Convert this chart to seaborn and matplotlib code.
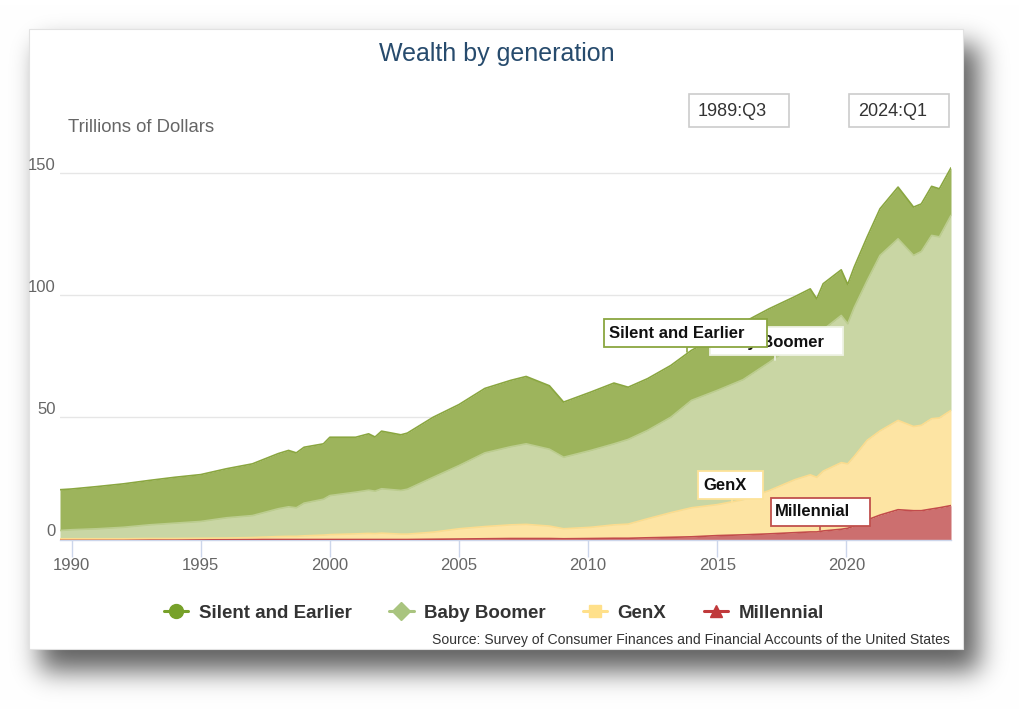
import numpy as np
import pandas as pd
import matplotlib
matplotlib.use('Agg')
import matplotlib.pyplot as plt
import matplotlib.transforms as mtransforms
from matplotlib.patches import Rectangle
from matplotlib.lines import Line2D
import seaborn as sns

sns.set_theme(style='white')
plt.rcParams['font.family'] = ['Liberation Sans', 'DejaVu Sans']

# quarterly-ish sample points (trillions of dollars)
dates = [1989.55, 1990.0, 1991.0, 1992.0, 1993.0, 1994.0, 1995.0, 1996.0, 1997.0, 1998.0,
         1998.4, 1998.7, 1999.0, 1999.75, 2000.0, 2001.0, 2001.5, 2001.75, 2002.0, 2002.75,
         2003.0, 2004.0, 2005.0, 2006.0, 2007.0, 2007.6, 2008.5, 2009.05, 2010.1, 2011.0,
         2011.55, 2012.3, 2013.2, 2014.0, 2015.0, 2016.0, 2017.0, 2018.0, 2018.6, 2018.85,
         2019.1, 2019.8, 2020.05, 2020.3, 2020.8, 2021.3, 2022.0, 2022.6, 2022.9, 2023.3,
         2023.6, 2024.05]
silent = [16.7, 16.7, 17.3, 17.8, 18.2, 18.8, 19.2, 20.1, 21.2, 22.6,
          23.1, 22.5, 22.9, 22.7, 23.9, 22.5, 23.1, 22.2, 23.6, 22.8,
          23.0, 24.6, 25.0, 26.4, 27.2, 27.6, 26.0, 22.6, 23.9, 24.9,
          21.4, 21.2, 21.2, 20.5, 22.1, 23.4, 22.0, 19.5, 18.2, 18.1,
          18.8, 18.7, 16.1, 16.6, 17.9, 19.1, 21.2, 19.8, 19.5, 20.1,
          19.7, 19.5]
boomer = [3.4, 3.7, 4.1, 4.7, 5.6, 6.3, 6.9, 8.3, 9.0, 11.4,
          12.1, 11.7, 13.4, 14.7, 16.0, 17.1, 17.7, 17.4, 18.2, 17.9,
          18.4, 22.5, 25.9, 30.2, 32.0, 33.0, 31.5, 29.3, 31.5, 33.2,
          34.7, 36.2, 39.1, 44.0, 46.8, 49.2, 52.5, 55.5, 58.0, 55.0,
          58.0, 60.3, 57.4, 61.0, 65.4, 71.9, 74.4, 70.1, 71.2, 75.1,
          74.2, 79.9]
genx = [0.3, 0.3, 0.3, 0.3, 0.4, 0.4, 0.5, 0.6, 0.8, 1.2,
        1.3, 1.3, 1.5, 1.8, 2.0, 2.3, 2.5, 2.4, 2.6, 2.2,
        2.2, 2.9, 4.2, 5.0, 5.6, 5.8, 5.1, 4.1, 4.6, 5.5,
        5.8, 7.8, 10.1, 11.9, 12.7, 14.4, 17.7, 21.7, 23.4, 22.4,
        24.5, 27.3, 26.4, 28.5, 32.6, 34.5, 36.6, 34.5, 35.0, 37.0,
        36.8, 39.0]
millennial = [0.0, 0.0, 0.0, 0.0, 0.0, 0.0, 0.0, 0.0, 0.0, 0.0,
              0.0, 0.0, 0.0, 0.0, 0.0, 0.0, 0.0, 0.0, 0.0, 0.0,
              0.0, 0.1, 0.2, 0.3, 0.4, 0.4, 0.4, 0.3, 0.4, 0.5,
              0.5, 0.7, 0.9, 1.1, 1.6, 1.9, 2.3, 2.8, 3.1, 3.1,
              3.5, 4.2, 4.6, 5.5, 8.0, 10.0, 12.2, 11.8, 11.8, 12.5,
              13.0, 13.9]

names = ['Silent and Earlier', 'Baby Boomer', 'GenX', 'Millennial']
fill_colors = ['#9db45c', '#c9d6a4', '#fde4a3', '#cc6f6f']
edge_colors = ['#8aa640', '#bccd8f', '#fcdc8e', '#c24b4b']
legend_colors = ['#77a12a', '#a9c47f', '#ffe08a', '#c0393b']
legend_markers = ['o', 'D', 's', '^']

W, H = 1024, 709
fig = plt.figure(figsize=(W / 100, H / 100), dpi=100)
fig.patch.set_facecolor('white')

def fx(x):
    return x / W

def fy(y):
    return 1 - y / H

# drop shadow behind the card
yy, xx = np.mgrid[0:H, 0:W]
mask = ((xx >= 40) & (xx <= 978) & (yy >= 45) & (yy <= 670)).astype(float)
k = np.exp(-0.5 * (np.arange(-40, 41) / 13.0) ** 2)
k /= k.sum()
blur = np.apply_along_axis(lambda r: np.convolve(r, k, mode='same'), 1, mask)
blur = np.apply_along_axis(lambda c: np.convolve(c, k, mode='same'), 0, blur)
shade = 1 - 0.62 * blur
fig.figimage(np.dstack([shade, shade, shade]), 0, 0, origin='upper', zorder=0)

fig.add_artist(Rectangle((fx(29), fy(649)), (963 - 29) / W, (649 - 29) / H,
                         transform=fig.transFigure, facecolor='white',
                         edgecolor='#e2e2e2', lw=0.8, zorder=1))

ax = fig.add_axes([fx(60), fy(539.5), 891 / W, (539.5 - 149) / H], zorder=2)
ax.patch.set_alpha(0)

ax.stackplot(dates, millennial, genx, boomer, silent,
             colors=fill_colors[::-1], lw=0, zorder=2)

# top edge of each band
cum = np.cumsum(np.array([millennial, genx, boomer, silent]), axis=0)
edges = pd.DataFrame({
    'year': np.tile(dates, 4),
    'top': cum.ravel(),
    'generation': np.repeat(names[::-1], len(dates)),
})
sns.lineplot(data=edges, x='year', y='top', hue='generation',
             palette=dict(zip(names, edge_colors)), estimator=None,
             lw=1.2, legend=False, ax=ax, zorder=3)

ax.set_xlim(dates[0], dates[-1])
ax.set_ylim(0, 160)
ax.set_xlabel('')
ax.set_ylabel('')
ax.set_xticks([1990, 1995, 2000, 2005, 2010, 2015, 2020])
ax.set_yticks([0, 50, 100, 150])
ax.yaxis.grid(True, color='#e6e6e6', lw=1)
ax.xaxis.grid(False)
ax.set_axisbelow(True)
for s in ['top', 'right', 'left']:
    ax.spines[s].set_visible(False)
ax.spines['bottom'].set_color('#ccd6eb')
ax.spines['bottom'].set_linewidth(1)
ax.tick_params(axis='x', direction='out', length=12, width=1, color='#ccd6eb',
               labelsize=12, labelcolor='#666666', pad=1.5, bottom=True)
ax.tick_params(axis='y', length=0, labelsize=12, labelcolor='#666666', pad=3)
shift = mtransforms.ScaledTranslation(0, 0.09, fig.dpi_scale_trans)
for lab in ax.get_yticklabels():
    lab.set_transform(lab.get_transform() + shift)

fig.text(fx(497), fy(54), 'Wealth by generation', ha='center', va='center',
         fontsize=18, color='#274b6d', zorder=5)
fig.text(fx(68), fy(127), 'Trillions of Dollars', ha='left', va='center',
         fontsize=13.3, color='#666666', zorder=5)

# range boxes
for x0, x1, txt in [(689, 789, '1989:Q3'), (849, 949, '2024:Q1')]:
    fig.add_artist(Rectangle((fx(x0), fy(127)), (x1 - x0) / W, 33 / H,
                             transform=fig.transFigure, facecolor='white',
                             edgecolor='#cccccc', lw=1.2, zorder=5))
    fig.text(fx(x0 + 9), fy(111), txt, ha='left', va='center',
             fontsize=13, color='#333333', zorder=6)

# data labels
labels = [
    (710, 843, 327, 355, 716, 342, 'Baby Boomer', '#eef2e4', 775, 360),
    (604, 767, 319, 347, 609, 334, 'Silent and Earlier', '#8aa640', 687, 352),
    (698, 763, 471, 499, 703, 486, 'GenX', '#fde39a', 732, 503),
    (771, 870, 498, 526, 775, 512, 'Millennial', '#c0504d', 820, 530),
]
for i, (x0, x1, y0, y1, tx, ty, txt, ec, px, py) in enumerate(labels):
    z = 6 + 2 * i
    fig.add_artist(Line2D([fx(px), fx(px)], [fy(y1), fy(py)], transform=fig.transFigure,
                          color=ec, lw=1.2, zorder=z))
    fig.add_artist(Rectangle((fx(x0), fy(y1)), (x1 - x0) / W, (y1 - y0) / H,
                             transform=fig.transFigure, facecolor='white',
                             edgecolor=ec, lw=1.3, zorder=z))
    fig.text(fx(tx), fy(ty), txt, ha='left', va='center', fontsize=12,
             fontweight='bold', color='#111111', zorder=z + 1)

handles = [Line2D([0], [0], color=c, marker=m, markersize=10 if m == 'o' else 9,
                  lw=2.2, label=n)
           for c, m, n in zip(legend_colors, legend_markers, names)]
leg = fig.legend(handles=handles, loc='center', bbox_to_anchor=(fx(494), fy(613)),
                 ncol=4, frameon=False, handlelength=1.3, handletextpad=0.55,
                 columnspacing=2.0, prop={'weight': 'bold', 'size': 13.5})
leg.set_zorder(10)
for t in leg.get_texts():
    t.set_color('#333333')

fig.text(fx(950), fy(640), 'Source: Survey of Consumer Finances and Financial Accounts of the United States',
         ha='right', va='center', fontsize=10.1, color='#333333', zorder=6)

fig.savefig('out.png', dpi=100, facecolor='white')
